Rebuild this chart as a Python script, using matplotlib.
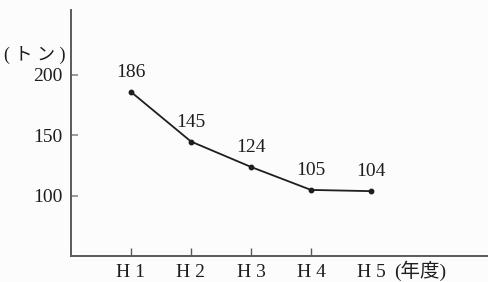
import matplotlib.pyplot as plt

plt.rcParams['font.family'] = ['Liberation Serif', 'Noto Sans CJK JP', 'DejaVu Sans']

# data
years = ["H 1", "H 2", "H 3", "H 4", "H 5"]
tons = [186, 145, 124, 105, 104]
yticks = [100, 150, 200]

ink = "#1e1e1e"
axis_col = "#5a5a5a"
xpos = list(range(1, len(years) + 1))

fig = plt.figure(figsize=(4.88, 2.82), dpi=100, facecolor="#fcfcfc")
ax = fig.add_axes([71 / 488, 26 / 282, (488 - 71) / 488, 246 / 282])
ax.set_facecolor("#fcfcfc")

ax.plot(xpos, tons, color=ink, lw=1.3, marker="o", ms=3.2, mfc=ink, mec=ink)
for x, v in zip(xpos, tons):
    ax.annotate(str(v), (x, v), xytext=(0, 14), textcoords="offset points",
                ha="center", va="center", fontsize=14, color=ink)

ax.set_xlim(0, 6.95)
ax.set_ylim(50.4, 253.7)
ax.set_xticks(xpos, years)
ax.set_yticks(yticks)

for s in ["top", "right"]:
    ax.spines[s].set_visible(False)
for s in ["left", "bottom"]:
    ax.spines[s].set_color(axis_col)
    ax.spines[s].set_linewidth(1.4)

ax.tick_params(axis="y", direction="in", length=5, width=1.2, color="#888888",
               labelsize=14, labelcolor=ink, pad=6)
ax.tick_params(axis="x", direction="in", length=6, width=1.0, color=axis_col,
               labelsize=14, labelcolor=ink, pad=6)
# no tick mark at H5
ax.xaxis.get_major_ticks()[-1].tick1line.set_visible(False)

fig.text(35 / 488, 1 - 55 / 282, "( ト ン )", ha="center", va="center",
         fontsize=13, color=ink)
fig.text(420 / 488, 1 - 271 / 282, "(年度)", ha="center", va="center",
         fontsize=14, color=ink)

fig.savefig("out.png", dpi=100, facecolor=fig.get_facecolor())
